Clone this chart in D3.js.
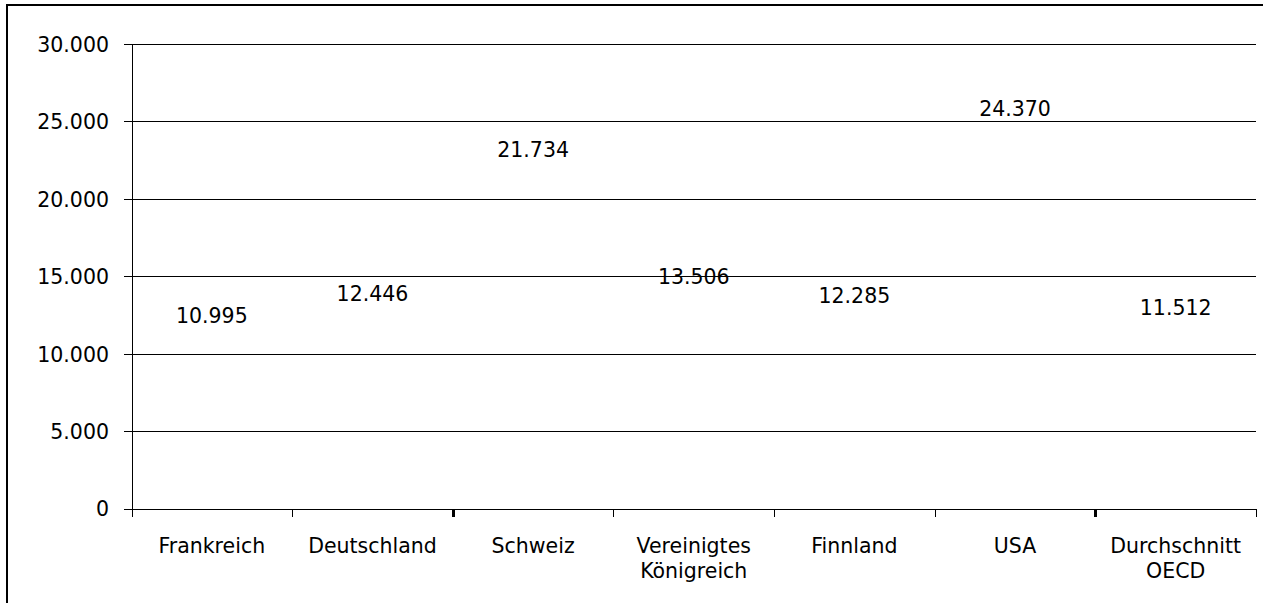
<!DOCTYPE html>
<html><head><meta charset="utf-8">
<script src="https://cdn.jsdelivr.net/npm/d3@7"></script>
<style>
html,body{margin:0;padding:0;background:#fff;}
svg{display:block;}
text{font-family:"DejaVu Sans",Verdana,sans-serif;fill:#000;}
</style></head>
<body>
<svg id="chart" width="1263" height="603"></svg>
<script>
const categories = [["Frankreich"],["Deutschland"],["Schweiz"],["Vereinigtes","Königreich"],["Finnland"],["USA"],["Durchschnitt","OECD"]];
const values = [10995, 12446, 21734, 13506, 12285, 24370, 11512];
const yTicks = [0, 5000, 10000, 15000, 20000, 25000, 30000];

(function(){
const svg = d3.select("#chart");
const W = 1263, H = 603;
const pL = 131.5, pR = 1256, pT = 44, pB = 508.5;
const fs = "20.5px";

svg.append("rect").attr("x",7).attr("y",5).attr("width",W).attr("height",H)
  .attr("fill","none").attr("stroke","#000").attr("stroke-width",2);

const x = d3.scaleBand().domain(d3.range(categories.length)).range([pL,pR]).paddingInner(0).paddingOuter(0);
const y = d3.scaleLinear().domain([0,30000]).range([pB,pT]);
const fmt = d3.formatLocale({decimal:",",thousands:".",grouping:[3],currency:["","€"]}).format(",d");

// gridlines
svg.append("g").selectAll("line").data(yTicks.filter(d=>d>0)).join("line")
  .attr("x1",pL).attr("x2",pR).attr("y1",d=>Math.round(y(d))+0.5).attr("y2",d=>Math.round(y(d))+0.5)
  .attr("stroke","#000").attr("stroke-width",1).attr("shape-rendering","crispEdges");

// y axis
const yAxis = svg.append("g").attr("transform",`translate(${Math.round(pL)},0)`)
  .call(d3.axisLeft(y).tickValues(yTicks).tickFormat(fmt).tickSize(8).tickPadding(15));
yAxis.select(".domain").attr("stroke","#000").attr("d",`M0.5,${pT}V${pB}`);
yAxis.selectAll(".tick line").attr("stroke","#000");
yAxis.selectAll(".tick text").style("font-size",fs).attr("dy","0.36em").style("font-family","DejaVu Sans");
yAxis.selectAll("path,line").attr("shape-rendering","crispEdges");

// x axis
const boundaries = d3.range(categories.length+1).map(i => i===categories.length ? pR : x(i));
const xg = svg.append("g");
xg.append("line").attr("x1",pL).attr("x2",pR).attr("y1",Math.round(pB)+0.5).attr("y2",Math.round(pB)+0.5)
  .attr("stroke","#000").attr("shape-rendering","crispEdges");
xg.selectAll("line.tk").data(boundaries).join("line").attr("class","tk")
  .attr("x1",d=>Math.round(d)+0.5).attr("x2",d=>Math.round(d)+0.5)
  .attr("y1",Math.round(pB)).attr("y2",Math.round(pB)+8)
  .attr("stroke","#000").attr("stroke-width",(d,i)=>(i===2||i===6)?3:1).attr("shape-rendering","crispEdges");

const cl = xg.selectAll("text.cat").data(categories).join("text").attr("class","cat")
  .attr("text-anchor","middle").style("font-size",fs)
  .attr("transform",(d,i)=>`translate(${x(i)+x.bandwidth()/2},553)`);
cl.selectAll("tspan").data(d=>d).join("tspan").attr("x",0).attr("y",(d,i)=>i*25).text(d=>d);

// data labels (invisible line points)
svg.append("g").selectAll("text").data(values).join("text")
  .attr("x",(d,i)=>x(i)+x.bandwidth()/2).attr("y",d=>y(d)-15)
  .attr("text-anchor","middle").style("font-size",fs).text(d=>fmt(d));
})();
</script>
</body></html>
